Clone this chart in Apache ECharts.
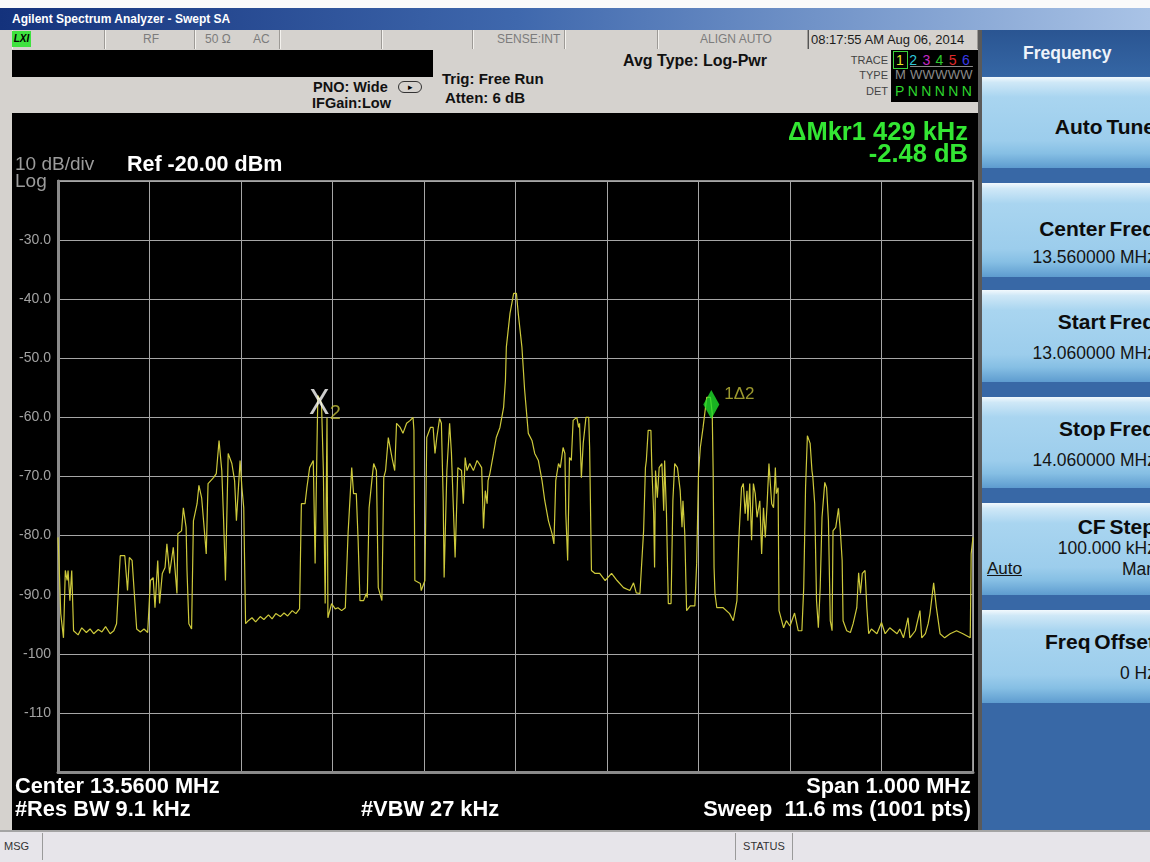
<!DOCTYPE html>
<html>
<head>
<meta charset="utf-8">
<title>Swept SA</title>
<script src="https://cdn.jsdelivr.net/npm/echarts@6/dist/echarts.min.js"></script>
<style>
  body { margin: 0; width: 1150px; height: 862px; overflow: hidden; position: relative;
         background: #fafafa; font-family: "Liberation Sans", Arial, sans-serif; }
  .abs { position: absolute; }
  .t { position: absolute; white-space: nowrap; height: 20px; line-height: 20px; }
  #titlebar { left: 0; top: 8px; width: 1150px; height: 22px; line-height: 22px;
              background: linear-gradient(to right, #14327c 0%, #3f68ad 45%, #a9c3e6 100%);
              color: #fff; font-weight: bold; font-size: 12px; padding-left: 12px; box-sizing: border-box; }
  .cell { position: absolute; top: 30px; height: 19px; border-right: 1px solid #9d9a96;
          border-left: 1px solid #f4f2ee; box-sizing: border-box; }
  .st { color: #7c7c7c; font-size: 12px; top: 30px; height: 19px; line-height: 19px; }
  .info { font-weight: bold; color: #111; }
  #rightpanel { left: 978px; top: 30px; width: 172px; height: 800px; background: #3868a6;
                border-left: 4px solid #5a5a5a; box-sizing: border-box; overflow: hidden; }
  .btn { position: absolute; left: 0; width: 170px; overflow: hidden;
         background: linear-gradient(to bottom, #f2f9fd 0%, #cfe8f7 6%, #a9d5f0 22%, #9ccdec 70%, #86bfe4 84%, #5e9ccf 100%); }
  .btn .l { position: absolute; right: -3px; font-weight: bold; font-size: 21px; color: #0c0c0c; white-space: nowrap; word-spacing: -2px; }
  .btn .v { position: absolute; right: -4px; font-size: 17.5px; color: #141414; white-space: nowrap; }
</style>
</head>
<body>
<!-- title + status rows -->
<div id="titlebar" class="abs">Agilent Spectrum Analyzer - Swept SA</div>
<div class="abs" style="left:0;top:30px;width:978px;height:83px;background:#d5d2ce"></div>
<div class="abs" style="left:0;top:30px;width:12px;height:800px;background:#d5d2ce"></div>
<div class="cell" style="left:12px;width:93px"></div>
<div class="cell" style="left:105px;width:90px"></div>
<div class="cell" style="left:195px;width:85px"></div>
<div class="cell" style="left:280px;width:102px"></div>
<div class="cell" style="left:382px;width:91px"></div>
<div class="cell" style="left:473px;width:92px"></div>
<div class="cell" style="left:565px;width:93px"></div>
<div class="cell" style="left:658px;width:150px"></div>
<div class="cell" style="left:808px;width:170px;border-left:1px solid #555"></div>
<div class="abs" style="left:12px;top:31px;width:19px;height:16px;background:#3fe23f;font:italic bold 10px 'Liberation Sans';line-height:16px;text-align:center">LXI</div>
<div class="t st" style="left:143px">RF</div>
<div class="t st" style="left:205px">50 Ω</div>
<div class="t st" style="left:253px">AC</div>
<div class="t st" style="left:497px">SENSE:INT</div>
<div class="t st" style="left:700px">ALIGN AUTO</div>
<div class="t st" style="left:811px;color:#1c1c1c;font-size:13px">08:17:55 AM Aug 06, 2014</div>

<!-- settings area -->
<div class="abs" style="left:12px;top:50px;width:421px;height:27px;background:#000"></div>
<div class="t info" style="left:313px;top:77px;font-size:14.5px">PNO: Wide</div>
<div class="abs" style="left:398px;top:81px;width:22px;height:10px;border:1.5px solid #333;border-radius:6px;font-size:9px;line-height:10px;text-align:center">&#9656;</div>
<div class="t info" style="left:312px;top:93px;font-size:14.5px">IFGain:Low</div>
<div class="t info" style="left:442px;top:69px;font-size:15px">Trig: Free Run</div>
<div class="t info" style="left:445px;top:88px;font-size:15px">Atten: 6 dB</div>
<div class="t info" style="left:623px;top:51px;font-size:16px">Avg Type: Log-Pwr</div>
<div class="t" style="left:830px;top:50px;width:58px;text-align:right;font-size:11px;color:#444">TRACE</div>
<div class="t" style="left:830px;top:65px;width:58px;text-align:right;font-size:11px;color:#444">TYPE</div>
<div class="t" style="left:830px;top:81px;width:58px;text-align:right;font-size:11px;color:#444">DET</div>
<div class="abs" style="left:891px;top:50px;width:87px;height:52px;background:#000"></div>
<div class="abs" style="left:893px;top:51px;width:13px;height:16px;border:1px solid #3ad23a"></div>
<div class="t" style="left:896px;top:50px;font-size:14px;letter-spacing:5.4px"><span style="color:#e6e62a">1</span><span style="color:#2fc6d8">2</span><span style="color:#c42ac4">3</span><span style="color:#2ec82e">4</span><span style="color:#e22a2a">5</span><span style="color:#3a3ae6">6</span></div>
<div class="t" style="left:895px;top:65px;font-size:13px;color:#8a8a8a;letter-spacing:0.3px">M <span style="text-decoration:overline">WWWWW</span></div>
<div class="t" style="left:895px;top:81px;font-size:14px;color:#2ed42e;letter-spacing:3.4px">PNNNNN</div>

<!-- display -->
<div id="chart" class="abs" style="left:12px;top:113px;width:966px;height:717px;background:#000"></div>

<!-- softkey panel -->
<div id="rightpanel" class="abs">
  <div class="abs" style="left:0;top:0;width:170px;height:46px;background:linear-gradient(to bottom,#2a5592,#3566a4);color:#eef3fa;font-weight:bold;font-size:17.5px;line-height:46px;padding-left:41px;box-sizing:border-box">Frequency</div>
  <div class="btn" style="top:47px;height:91px"><div class="l" style="top:38px">Auto Tune</div></div>
  <div class="btn" style="top:153px;height:94px"><div class="l" style="top:34px">Center Freq</div><div class="v" style="top:64px">13.560000 MHz</div></div>
  <div class="btn" style="top:260px;height:92px"><div class="l" style="top:20px">Start Freq</div><div class="v" style="top:53px">13.060000 MHz</div></div>
  <div class="btn" style="top:367px;height:91px"><div class="l" style="top:20px">Stop Freq</div><div class="v" style="top:53px">14.060000 MHz</div></div>
  <div class="btn" style="top:473px;height:92px"><div class="l" style="top:12px">CF Step</div><div class="v" style="top:35px">100.000 kHz</div>
    <div class="abs" style="left:5px;top:56px;font-size:17px;text-decoration:underline;color:#141414">Auto</div><div class="v" style="top:56px">Man</div></div>
  <div class="btn" style="top:580px;height:93px"><div class="l" style="top:20px">Freq Offset</div><div class="v" style="top:53px">0 Hz</div></div>
</div>

<!-- message bar -->
<div class="abs" style="left:0;top:830px;width:1150px;height:32px;background:#e7e5ea;border-top:2px solid #a4a4a4;box-sizing:border-box"></div>
<div class="abs" style="left:2px;top:833px;width:38px;height:27px;border-right:1px solid #9a9a9a;font-size:11px;line-height:27px;padding-left:2px;color:#333">MSG</div>
<div class="abs" style="left:735px;top:833px;width:56px;height:27px;border-left:1px solid #9a9a9a;border-right:1px solid #9a9a9a;font-size:11px;line-height:27px;text-align:center;color:#333">STATUS</div>

<script>
// trace: offset from start frequency 13.060 MHz, in kHz, and level in dBm
var traceKHz = [0, 1, 3, 6, 8, 10, 11, 13, 15, 17, 19, 22, 26, 31, 35, 39, 44, 48, 52, 57, 61, 64, 68, 73, 76, 78, 81, 86, 90, 94, 98,
  101, 104, 106, 109, 111, 114, 117, 119, 122, 126, 130, 131, 135, 137, 140, 141, 143, 146, 148, 152, 154, 157, 160, 162, 164, 167, 170, 173, 176, 179,
  181, 183, 186, 190, 193, 195, 199, 201, 203, 205, 208, 212, 216, 221, 225, 230, 234, 238, 243, 247, 251, 256, 260, 264, 266, 270, 272, 275, 279,
  281, 283, 284, 288, 290, 292, 294, 295, 299, 303, 306, 310, 314, 317, 321, 323, 326, 328, 330, 334, 337, 338, 340, 343, 345, 348, 350, 354, 356, 358,
  361, 365, 368, 370, 374, 377, 381, 385, 388, 389, 390, 396, 397, 401, 403, 407, 410, 412, 414, 417, 419, 421, 422, 425, 428, 430, 434, 437,
  441, 443, 445, 447, 450, 454, 458, 461, 463, 465, 467, 469, 470, 472, 476, 479, 483, 487, 489, 490, 494, 498,
  501, 503, 507, 510, 514, 518, 521, 525, 529, 532, 536, 540, 542, 544, 547, 549, 552, 554, 555, 557, 559,
  561, 563, 567, 569, 570, 572, 574, 577, 580, 581, 583, 587, 592, 598, 605, 611, 618, 625, 629, 632, 636,
  640, 642, 643, 645, 648, 649, 651, 652, 653, 655, 657, 660, 662, 663, 665, 667, 670, 672, 674, 677, 680, 682, 683, 685, 687, 691, 696, 698,
  700, 702, 705, 709, 713, 715, 716, 717, 718, 720, 727, 734, 738, 742, 744, 747, 749, 751, 753, 754, 756, 758, 760, 762, 764, 767, 769,
  771, 773, 775, 777, 780, 782, 784, 785, 787, 788, 793, 796, 800, 805, 809, 813, 815, 817, 819, 822, 824, 825, 827, 829, 831, 833, 835, 838,
  840, 842, 844, 846, 847, 850, 853, 855, 857, 858, 862, 866, 869, 873, 875, 877, 879, 882, 884, 886, 889, 895,
  900, 904, 909, 917, 920, 924, 929, 931, 937, 942, 944, 948, 951, 953, 957, 960, 962, 964, 969, 975, 982, 989, 997, 998, 1000];
var traceDbm = [-80.3, -83.9, -93.2, -97.3, -85.9, -87.6, -85.9, -91.0, -85.9, -96.1, -95.8, -96.8, -95.6, -96.4, -95.8, -96.6, -95.9, -96.3, -95.4, -96.6, -96.1, -94.9, -83.4, -83.4, -89.3, -83.7, -84.2, -95.8, -96.3, -95.8, -96.4,
  -87.6, -87.1, -92.2, -84.2, -91.5, -86.4, -85.4, -81.4, -86.4, -82.0, -89.8, -79.7, -79.2, -75.3, -78.6, -85.9, -94.9, -95.8, -77.5, -74.6, -71.5, -73.6, -79.2, -83.1, -71.2, -70.7, -70.2, -69.5, -63.9, -69.0,
  -77.5, -87.6, -66.1, -67.8, -70.7, -77.5, -67.3, -71.9, -75.3, -94.9, -94.4, -93.9, -94.6, -93.7, -94.2, -93.4, -94.1, -93.2, -93.7, -93.1, -93.6, -92.7, -93.2, -92.4, -74.6, -74.6, -71.9, -68.5, -67.3,
  -84.7, -65.1, -56.3, -57.6, -69.0, -91.5, -60.0, -93.9, -91.5, -92.4, -92.2, -92.7, -92.2, -79.7, -68.5, -72.9, -72.9, -80.8, -91.0, -91.0, -89.8, -90.5, -75.3, -70.7, -67.8, -69.0, -88.8, -91.0, -70.2, -69.0,
  -63.4, -66.8, -69.0, -61.0, -61.7, -62.7, -61.0, -60.5, -60.0, -62.2, -87.6, -88.1, -89.3, -87.6, -63.4, -61.7, -61.7, -66.1, -63.4, -60.2, -61.0, -74.1, -87.1, -69.0, -61.0, -66.1, -83.7, -68.5,
  -69.0, -74.6, -66.8, -69.0, -67.8, -69.0, -67.3, -68.0, -68.5, -78.8, -72.4, -74.6, -70.7, -69.5, -66.1, -63.4, -61.7, -58.3, -53.7, -48.1, -42.4, -39.0,
  -39.0, -42.4, -48.1, -55.4, -62.7, -63.9, -66.1, -67.3, -70.7, -74.1, -77.5, -79.7, -81.4, -70.7, -67.8, -68.5, -65.1, -66.1, -76.3, -84.2, -66.8,
  -67.3, -60.5, -60.0, -61.7, -61.0, -70.2, -64.4, -60.0, -60.0, -65.1, -85.9, -86.4, -86.4, -87.6, -86.4, -87.6, -88.8, -89.3, -88.0, -89.7, -89.8,
  -79.2, -68.5, -67.3, -62.2, -62.2, -68.5, -76.3, -85.4, -69.0, -73.6, -68.5, -67.8, -75.8, -67.3, -76.3, -91.5, -91.5, -74.1, -67.8, -68.5, -72.4, -78.6, -74.1, -79.7, -92.7, -91.9, -91.9, -84.7,
  -69.5, -65.1, -61.7, -56.6, -56.6, -59.3, -69.0, -85.4, -89.8, -92.2, -92.2, -93.2, -94.4, -91.0, -80.8, -71.9, -71.2, -76.3, -72.4, -77.5, -71.2, -80.8, -71.2, -72.9, -76.9, -74.1, -83.1,
  -75.3, -80.3, -74.6, -67.8, -74.6, -75.3, -68.5, -72.9, -71.9, -92.7, -95.6, -94.4, -95.3, -93.1, -96.1, -96.1, -88.8, -71.9, -63.1, -64.4, -69.0, -70.2, -74.6, -91.0, -95.6, -88.8, -76.9, -71.0,
  -71.9, -77.5, -94.4, -96.1, -79.2, -78.6, -75.4, -79.2, -84.2, -94.4, -96.1, -96.4, -94.9, -92.2, -86.3, -89.8, -86.4, -85.9, -92.2, -96.6, -95.8, -96.6,
  -94.7, -96.6, -95.6, -96.6, -95.8, -97.3, -93.9, -97.3, -96.1, -92.7, -97.3, -96.6, -94.9, -93.2, -88.0, -92.2, -94.4, -96.6, -97.3, -96.6, -96.1, -96.6, -97.3, -83.1, -80.3];

// markers: 2 (reference, X) and 1 (delta, diamond)
var markerKHz = [285, 714];
var markerDbm = [-58.0, -57.8];

var refLevel = -20;   // top of screen, dBm
var bottomLevel = -120;

var chart = echarts.init(document.getElementById('chart'));

var traceData = traceKHz.map(function (k, i) { return [k, traceDbm[i]]; });

var option = {
  backgroundColor: '#000',
  animation: false,
  grid: {
    left: 46, top: 68, width: 915, height: 591,
    show: true, borderColor: '#8e8e8e', borderWidth: 2
  },
  xAxis: {
    type: 'value', min: 0, max: 1000, interval: 100,
    axisLabel: { show: false }, axisTick: { show: false },
    axisLine: { show: true, lineStyle: { color: '#8a8a8a', width: 3 } },
    splitLine: { lineStyle: { color: '#a6a6a6', width: 1 } }
  },
  yAxis: {
    type: 'value', min: bottomLevel, max: refLevel, interval: 10,
    axisTick: { show: false },
    axisLine: { show: true, lineStyle: { color: '#8a8a8a', width: 3 } },
    splitLine: { lineStyle: { color: '#a6a6a6', width: 1 } },
    axisLabel: {
      color: '#a2a2a2', fontSize: 14, margin: 7, fontFamily: 'Liberation Sans',
      formatter: function (v) {
        if (v === refLevel || v === bottomLevel) return '';
        return Math.abs(v) >= 100 ? String(v) : v.toFixed(1);
      }
    }
  },
  series: [
    {
      name: 'Trace 1',
      type: 'line',
      data: traceData,
      showSymbol: false,
      lineStyle: { color: '#cdc93b', width: 1.2 },
      z: 2
    },
    {
      name: 'Marker 2',
      type: 'scatter',
      data: [[markerKHz[0], markerDbm[0]]],
      symbolSize: 1,
      itemStyle: { color: 'rgba(0,0,0,0)' },
      label: {
        show: true, position: 'inside', offset: [6, 0],
        formatter: '{x|X}{s|2}',
        rich: {
          x: { fontSize: 34, color: '#ffffff', fontFamily: '"DejaVu Sans Condensed", "Liberation Sans", sans-serif', verticalAlign: 'middle' },
          s: { fontSize: 20, color: '#c2be3a', fontFamily: '"Liberation Sans", sans-serif', padding: [16, 0, 0, 0] }
        }
      },
      z: 3
    },
    {
      name: 'Marker 1',
      type: 'scatter',
      data: [[markerKHz[1], markerDbm[1]]],
      symbol: 'diamond',
      symbolSize: [16, 29],
      itemStyle: { color: '#1fdf2a' },
      label: {
        show: true, position: 'right', offset: [0, -10],
        formatter: '1Δ2', color: '#c2be3a', fontSize: 17, fontFamily: 'Liberation Sans'
      },
      z: 4
    }
  ],
  graphic: [
    { type: 'text', left: 3, top: 42, style: { text: '10 dB/div', font: '19px "Liberation Sans"', fill: '#9c9c9c' } },
    { type: 'text', left: 3, top: 59, style: { text: 'Log', font: '19px "Liberation Sans"', fill: '#9c9c9c' } },
    { type: 'text', left: 115, top: 41, style: { text: 'Ref -20.00 dBm', font: 'bold 21.5px "Liberation Sans"', fill: '#ffffff' } },
    { type: 'text', right: 10, top: 7, style: { text: 'ΔMkr1 429 kHz', font: 'bold 25.5px "Liberation Sans"', fill: '#33e633' } },
    { type: 'text', right: 10, top: 29, style: { text: '-2.48 dB', font: 'bold 25.5px "Liberation Sans"', fill: '#33e633' } },
    { type: 'text', left: 3, top: 663, style: { text: 'Center 13.5600 MHz', font: 'bold 21.8px "Liberation Sans"', fill: '#ffffff' } },
    { type: 'text', left: 3, top: 686, style: { text: '#Res BW 9.1 kHz', font: 'bold 21.8px "Liberation Sans"', fill: '#ffffff' } },
    { type: 'text', left: 349, top: 686, style: { text: '#VBW 27 kHz', font: 'bold 21.8px "Liberation Sans"', fill: '#ffffff' } },
    { type: 'text', right: 7, top: 663, style: { text: 'Span 1.000 MHz', font: 'bold 21.8px "Liberation Sans"', fill: '#ffffff' } },
    { type: 'text', right: 7, top: 686, style: { text: 'Sweep  11.6 ms (1001 pts)', font: 'bold 21.8px "Liberation Sans"', fill: '#ffffff' } }
  ]
};

chart.setOption(option);
</script>
</body>
</html>
